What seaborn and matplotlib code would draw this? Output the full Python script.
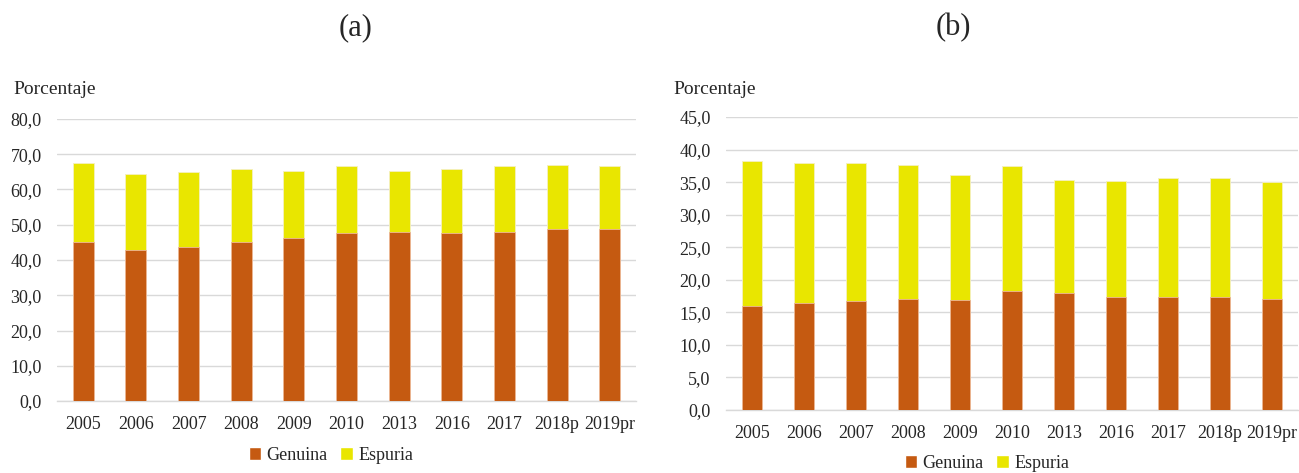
import numpy as np
import pandas as pd
import matplotlib
matplotlib.use("Agg")
import matplotlib.pyplot as plt
from matplotlib.patches import Patch
import seaborn as sns

years = ["2005", "2006", "2007", "2008", "2009", "2010", "2013", "2016", "2017", "2018p", "2019pr"]
genuina_a = [45.0, 42.8, 43.7, 45.0, 46.2, 47.6, 47.9, 47.6, 47.9, 48.8, 48.8]
espuria_a = [22.5, 21.7, 21.3, 20.8, 19.1, 19.1, 17.4, 18.2, 18.8, 18.2, 17.9]
genuina_b = [15.9, 16.4, 16.7, 17.1, 16.9, 18.2, 18.0, 17.3, 17.3, 17.3, 17.1]
espuria_b = [22.3, 21.6, 21.3, 20.6, 19.2, 19.3, 17.4, 17.9, 18.4, 18.4, 17.9]
yticks_a = [0, 10, 20, 30, 40, 50, 60, 70, 80]
yticks_b = [0, 5, 10, 15, 20, 25, 30, 35, 40, 45]

C_GEN = "#C55A11"
C_ESP = "#E9E600"

sns.set_theme(style="white")
plt.rcParams["font.family"] = ["Liberation Serif", "DejaVu Serif"]

fig = plt.figure(figsize=(12.99, 4.73), dpi=100)
ax_a = fig.add_axes([57 / 1299, 1 - 401 / 473, 579 / 1299, 282 / 473])
ax_b = fig.add_axes([726 / 1299, 1 - 410 / 473, 572 / 1299, 293 / 473])


def draw(ax, gen, esp, yticks, legend_x, legend_y):
    df = pd.DataFrame({"year": years, "gen": gen, "esp": esp})
    df["total"] = df["gen"] + df["esp"]
    sns.barplot(data=df, x="year", y="total", color=C_ESP, width=0.4, ax=ax,
                saturation=1, edgecolor="#F5F0C0", linewidth=0.6, zorder=3)
    sns.barplot(data=df, x="year", y="gen", color=C_GEN, width=0.4, ax=ax,
                saturation=1, edgecolor="#EDB899", linewidth=0.6, zorder=4)
    ax.set_xlim(-0.5, len(years) - 0.5)
    ax.set_ylim(0, yticks[-1])
    ax.set_yticks(yticks)
    ax.set_yticklabels([f"{v:.1f}".replace(".", ",") for v in yticks], fontsize=13)
    ax.tick_params(axis="x", labelsize=13, length=0, pad=11)
    ax.tick_params(axis="y", length=0, pad=11)
    ax.set_xlabel("")
    ax.set_ylabel("")
    ax.grid(axis="y", color="#D9D9D9", linewidth=1, zorder=0)
    ax.set_axisbelow(True)
    for s in ["top", "right", "left"]:
        ax.spines[s].set_visible(False)
    ax.spines["bottom"].set_color("#D9D9D9")
    ax.spines["bottom"].set_linewidth(1)
    handles = [Patch(facecolor=C_GEN, label="Genuina"), Patch(facecolor=C_ESP, label="Espuria")]
    fig.legend(handles=handles, loc="center", bbox_to_anchor=(legend_x, legend_y), ncol=2,
               frameon=False, fontsize=13, handlelength=0.7, handleheight=0.7,
               handletextpad=0.3, columnspacing=0.7)


draw(ax_a, genuina_a, espuria_a, yticks_a, 331 / 1299, 1 - 455 / 473)
draw(ax_b, genuina_b, espuria_b, yticks_b, 987 / 1299, 1 - 463 / 473)

fig.text(356 / 1299, 1 - 28 / 473, "(a)", ha="center", va="center", fontsize=22)
fig.text(953 / 1299, 1 - 28 / 473, "(b)", ha="center", va="center", fontsize=22)
fig.text(13 / 1299, 1 - 90 / 473, "Porcentaje", ha="left", va="center", fontsize=14)
fig.text(673 / 1299, 1 - 90 / 473, "Porcentaje", ha="left", va="center", fontsize=14)

fig.savefig("out.png", dpi=100, facecolor="white")
